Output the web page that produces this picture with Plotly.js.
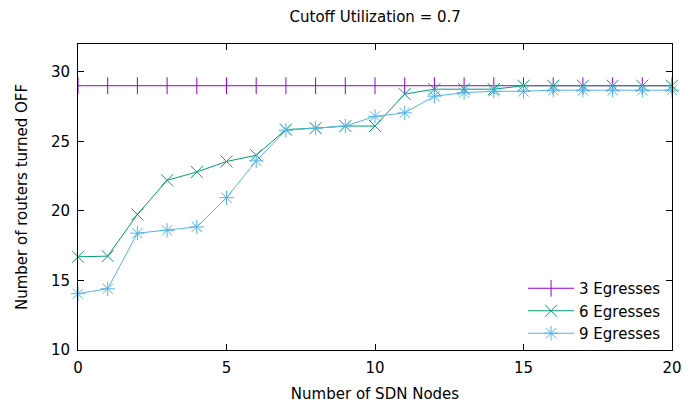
<!DOCTYPE html>
<html>
<head>
<meta charset="utf-8">
<script src="https://cdn.plot.ly/plotly-3.0.1.min.js"></script>
<style>html,body{margin:0;padding:0;background:#fff;}#chart{width:700px;height:407px;}</style>
</head>
<body>
<div id="chart"></div>
<script>
const sdnNodes = [0,1,2,3,4,5,6,7,8,9,10,11,12,13,14,15,16,17,18,19,20];
const egress3 = [29,29,29,29,29,29,29,29,29,29,29,29,29,29,29,29,29,29,29,29,29];
const egress6 = [16.7,16.75,19.75,22.2,22.8,23.55,24.0,25.85,25.95,26.1,26.1,28.4,28.75,28.75,28.75,29,29,29,29,29,29];
const egress9 = [14.05,14.4,18.4,18.6,18.85,20.95,23.6,25.8,25.95,26.1,26.8,27.05,28.25,28.5,28.6,28.6,28.68,28.68,28.68,28.68,28.68];
const seriesNames = ['3 Egresses','6 Egresses','9 Egresses'];
const seriesColors = ['#9400d3','#009e73','#56b4e9'];
const seriesSymbols = ['line-ns','x-thin','asterisk'];
const seriesValues = [egress3, egress6, egress9];

const font = 'DejaVu Sans, sans-serif';
const traces = seriesValues.map((vals, i) => ({
  x: sdnNodes, y: vals, name: seriesNames[i], type: 'scatter', mode: 'lines+markers',
  line: {color: seriesColors[i], width: 1},
  marker: {symbol: seriesSymbols[i], size: 12, color: seriesColors[i], line: {color: seriesColors[i], width: 1}},
  cliponaxis: false
}));

const axisCommon = {
  showline: true, linecolor: '#000', linewidth: 1, mirror: 'allticks',
  ticks: 'inside', ticklen: 6, tickcolor: '#000', tickwidth: 1,
  showgrid: false, zeroline: false,
  tickfont: {family: font, size: 15, color: '#000'}
};

const layout = {
  width: 700, height: 407,
  margin: {l: 78, r: 28, t: 44, b: 57},
  paper_bgcolor: '#fff', plot_bgcolor: '#fff',
  title: {text: 'Cutoff Utilization = 0.7', font: {family: font, size: 15, color: '#000'}, x: 0.536, xanchor: 'center', y: 0.958, yanchor: 'middle'},
  xaxis: Object.assign({}, axisCommon, {range: [0, 20], tickvals: [0,5,10,15,20], ticklabelstandoff: 4, title: {text: 'Number of SDN Nodes', font: {family: font, size: 15, color: '#000'}, standoff: 12}}),
  yaxis: Object.assign({}, axisCommon, {range: [10, 32], tickvals: [10,15,20,25,30], ticklabelstandoff: 4, title: {text: 'Number of routers turned OFF', font: {family: font, size: 15, color: '#000'}, standoff: 19}}),
  showlegend: true,
  legend: {x: 0.99, y: 0.0, xanchor: 'right', yanchor: 'bottom', bgcolor: 'rgba(0,0,0,0)', font: {family: font, size: 15, color: '#000'}, tracegroupgap: 0, itemwidth: 46}
};

Plotly.newPlot('chart', traces, layout, {displayModeBar: false, staticPlot: true});
</script>
</body>
</html>
